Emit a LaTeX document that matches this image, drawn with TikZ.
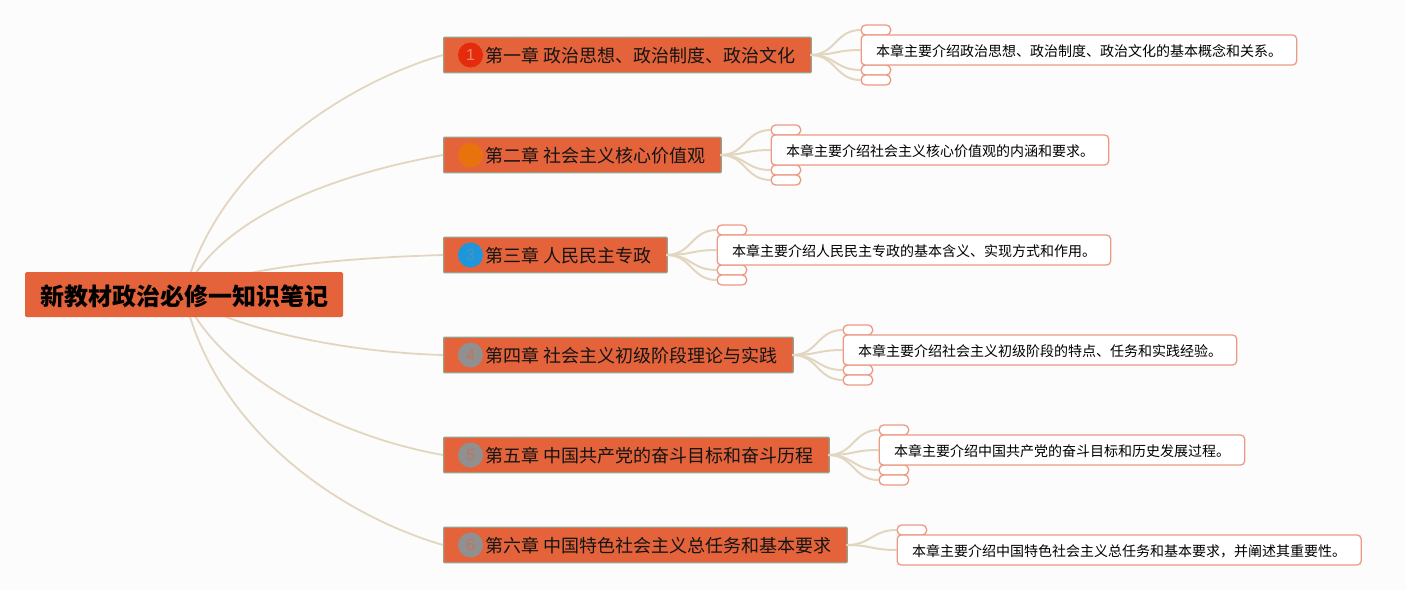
\documentclass[tikz,border=0pt]{standalone}
\usepackage{fontspec}
\usetikzlibrary{calc}
\setmainfont{Noto Sans CJK SC}
\newfontfamily\latinf{Liberation Sans}
\definecolor{bgc}{HTML}{FCFCFC}
\definecolor{nodec}{HTML}{E4633B}
\definecolor{edgec}{HTML}{E3D6C0}
\definecolor{chapb}{HTML}{9C9F88}
\definecolor{detb}{HTML}{EC9A84}
\definecolor{cfirst}{HTML}{E42C0C}
\definecolor{csecond}{HTML}{E8720C}
\definecolor{cthird}{HTML}{1E96DC}
\definecolor{cgrey}{HTML}{909090}
\tikzset{
  x=1pt,y=-1pt,
  rootbox/.style={fill=nodec,rounded corners=1.5pt,inner sep=0pt,minimum height=45pt,minimum width=318pt,text height=0pt,text depth=0pt},
  roottext/.style={font=\fontsize{24}{24}\selectfont\bfseries,text=black,inner sep=0pt},
  chapbox/.style={fill=nodec,draw=chapb,line width=1.4pt,rounded corners=1pt,inner sep=0pt,minimum height=35.5pt,anchor=west},
  chaptext/.style={font=\fontsize{18}{18}\selectfont,text=black!92,inner sep=0pt,anchor=west},
  detbox/.style={fill=white,draw=detb,line width=1.3pt,rounded corners=4pt,inner sep=0pt,minimum height=30pt,anchor=west},
  dettext/.style={font=\fontsize{14}{14}\selectfont,text=black,inner sep=0pt,anchor=west},
  tinybox/.style={fill=white,draw=detb,line width=1.3pt,rounded corners=4.5pt,inner sep=0pt,minimum height=10pt,minimum width=29.5pt,anchor=west},
  badge/.style={circle,inner sep=0pt,minimum size=25pt,font=\latinf\fontsize{16}{16}\selectfont},
  rootlink/.style={draw=edgec,line width=1.8pt},
  sublink/.style={draw=edgec,line width=2pt},
}
\begin{document}
\begin{tikzpicture}
\useasboundingbox (0,0) rectangle (1406,590);
\fill[bgc] (0,0) rectangle (1406,590);
\coordinate (rootc) at (184,295);
\foreach \n/\cw/\cy/\dw/\dx/\col/\dcol/\ttl/\det in {
 1/367.5/55/435.5/860.5/cfirst/nodec!75!white/{第一章 政治思想、政治制度、政治文化}/{本章主要介绍政治思想、政治制度、政治文化的基本概念和关系。},
 2/277.5/155/337.5/770.5/csecond/csecond!90!nodec/{第二章 社会主义核心价值观}/{本章主要介绍社会主义核心价值观的内涵和要求。},
 3/223.5/255/393.5/716.5/cthird/cthird!60!cgrey/{第三章 人民民主专政}/{本章主要介绍人民民主专政的基本含义、实现方式和作用。},
 4/349.5/355/393.5/842.5/cgrey/nodec!60!cgrey/{第四章 社会主义初级阶段理论与实践}/{本章主要介绍社会主义初级阶段的特点、任务和实践经验。},
 5/385.5/455/365.5/878.5/cgrey/nodec!60!cgrey/{第五章 中国共产党的奋斗目标和奋斗历程}/{本章主要介绍中国共产党的奋斗目标和历史发展过程。}}
{
  \node[chapbox,minimum width=\cw pt] (c\n) at (443,\cy) {};
  \node[badge,fill=\col,text=\dcol] (b\n) at (470.5,\cy) {\n};
  \node[chaptext] (ct\n) at (485,\cy+1) {\ttl};
  \coordinate (cr\n) at (443+\cw,\cy);
  \coordinate (s1\n) at (\dx,\cy-25);
  \coordinate (s2\n) at (\dx,\cy-5);
  \coordinate (s3\n) at (\dx,\cy+15);
  \coordinate (s4\n) at (\dx,\cy+25);
  \foreach \k in {1,2,3,4} {
    \draw[sublink] (cr\n) .. controls ($(cr\n)+(25,0)$) and ($(s\k\n)+(-25,0)$) .. (s\k\n);
  }
  \node[tinybox] (ta\n) at (\dx,\cy-25) {};
  \node[tinybox] (tb\n) at (\dx,\cy+15) {};
  \node[tinybox] (tc\n) at (\dx,\cy+25) {};
  \node[detbox,minimum width=\dw pt] (d\n) at (\dx,\cy-5) {};
  \node[dettext] (dt\n) at (\dx+15.5,\cy-4) {\det};
}
\node[chapbox,minimum width=403.5pt] (c6) at (443,545) {};
\node[badge,fill=cgrey,text=nodec!60!cgrey] (b6) at (470.5,545) {6};
\node[chaptext] (ct6) at (485,546) {第六章 中国特色社会主义总任务和基本要求};
\coordinate (cr6) at (846.5,545);
\coordinate (s16) at (896.5,530);
\coordinate (s26) at (896.5,550);
\draw[sublink] (cr6) .. controls (871,545) and (872,530) .. (s16);
\draw[sublink] (cr6) .. controls (871,545) and (872,550) .. (s26);
\node[tinybox] (ta6) at (896.5,530) {};
\node[detbox,minimum width=464pt] (d6) at (896.5,550) {};
\node[dettext] (dt6) at (912,551) {本章主要介绍中国特色社会主义总任务和基本要求，并阐述其重要性。};
\draw[rootlink] (rootc) .. controls (215,170) and (340,85) .. (c1.west);
\draw[rootlink] (rootc) .. controls (215,220) and (330,175) .. (c2.west);
\draw[rootlink] (rootc) .. controls (230,268) and (340,258) .. (c3.west);
\draw[rootlink] (rootc) .. controls (222,325) and (335,352) .. (c4.west);
\draw[rootlink] (rootc) .. controls (215,370) and (330,435) .. (c5.west);
\draw[rootlink] (rootc) .. controls (215,430) and (340,515) .. (c6.west);
\node[rootbox] (root) at (184,294.5) {};
\node[roottext] (roott) at (184.5,296) {新教材政治必修一知识笔记};
\end{tikzpicture}
\end{document}
